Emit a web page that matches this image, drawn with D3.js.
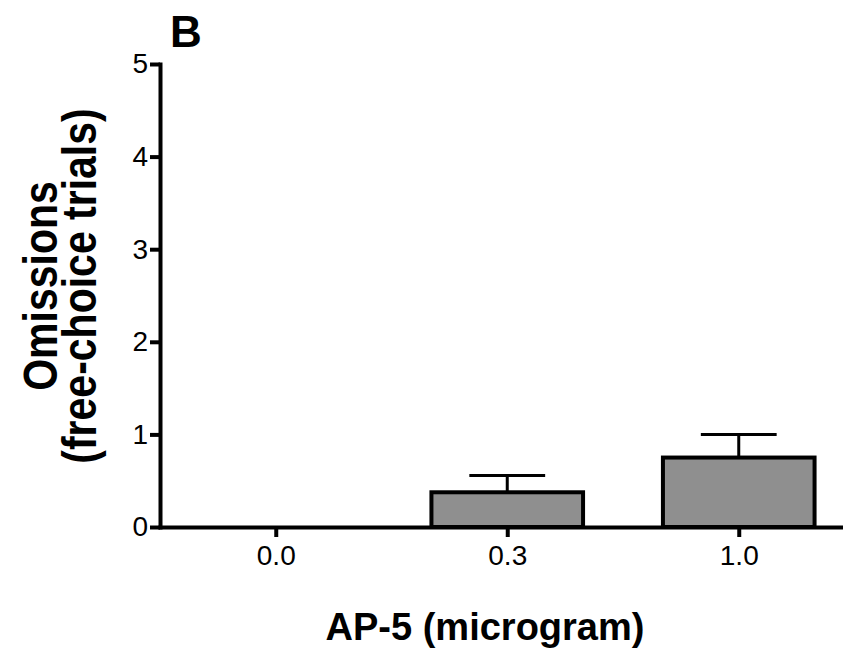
<!DOCTYPE html>
<html>
<head>
<meta charset="utf-8">
<script src="https://cdn.jsdelivr.net/npm/d3@7"></script>
<style>
  html, body { margin: 0; padding: 0; background: #fff; }
  svg { display: block; font-family: Arial, "Liberation Sans", sans-serif; }
</style>
</head>
<body>
<svg id="chart" width="843" height="654"></svg>
<script>
const categories = ["0.0", "0.3", "1.0"];
const means = [0, 0.375, 0.75];
const sems = [0, 0.18, 0.25];
const yTicks = [0, 1, 2, 3, 4, 5];

const svg = d3.select("#chart");
const x0 = 160, x1 = 854.5, yTop = 64, yBot = 527;

const x = d3.scalePoint().domain(categories).range([x0, x1]).padding(0.5);
const y = d3.scaleLinear().domain([0, 5]).range([yBot, yTop]);
const barW = x.step() * 0.655;

// bars
const g = svg.append("g");
categories.forEach((c, i) => {
  if (means[i] > 0) {
    g.append("line")
      .attr("x1", x(c)).attr("x2", x(c))
      .attr("y1", y(means[i])).attr("y2", y(means[i] + sems[i]))
      .attr("stroke", "#000").attr("stroke-width", 3);
    g.append("line")
      .attr("x1", x(c) - barW / 4).attr("x2", x(c) + barW / 4)
      .attr("y1", y(means[i] + sems[i])).attr("y2", y(means[i] + sems[i]))
      .attr("stroke", "#000").attr("stroke-width", 3);
    g.append("rect")
      .attr("x", x(c) - barW / 2).attr("width", barW)
      .attr("y", y(means[i])).attr("height", y(0) - y(means[i]))
      .attr("fill", "#8f8f8f").attr("stroke", "#000").attr("stroke-width", 4);
  }
});

// x axis
const xAxis = svg.append("g").attr("transform", `translate(0,${yBot})`)
  .call(d3.axisBottom(x).tickSizeInner(10).tickSizeOuter(0).tickPadding(8));
// y axis
const yAxis = svg.append("g").attr("transform", `translate(${x0},0)`)
  .call(d3.axisLeft(y).tickValues(yTicks).tickFormat(d3.format("d")).tickSizeInner(10).tickSizeOuter(0).tickPadding(2));

[xAxis, yAxis].forEach(a => {
  a.select(".domain").attr("stroke", "#000").attr("stroke-width", 4).attr("stroke-linecap", "square");
  a.selectAll(".tick line").attr("stroke", "#000").attr("stroke-width", 4);
  a.selectAll(".tick text").attr("fill", "#000").attr("font-size", 28)
    .attr("font-family", "Arial, 'Liberation Sans', sans-serif");
});

// titles
svg.append("text").attr("x", 485).attr("y", 640).attr("text-anchor", "middle")
  .attr("font-size", 38).attr("font-weight", "bold").text("AP-5 (microgram)");

const stretch = 1.15;
const yt = svg.append("text").attr("transform", `translate(0,286) rotate(-90) scale(1,${stretch})`)
  .attr("text-anchor", "middle").attr("font-size", 41).attr("font-weight", "bold");
yt.append("tspan").attr("x", 0).attr("y", 57 / stretch).text("Omissions");
yt.append("tspan").attr("x", 0).attr("y", 96 / stretch).text("(free-choice trials)");

svg.append("text").attr("x", 170).attr("y", 47)
  .attr("font-size", 44).attr("font-weight", "bold").text("B");
</script>
</body>
</html>
